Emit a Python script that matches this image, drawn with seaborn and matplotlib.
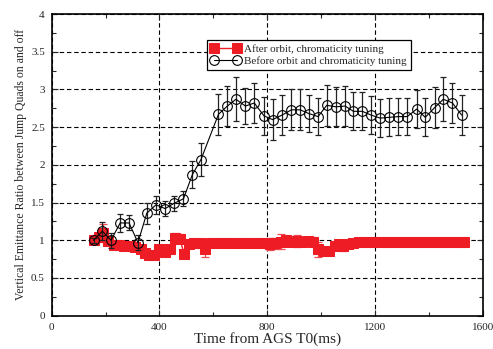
import numpy as np
import pandas as pd
import seaborn as sns
import matplotlib.pyplot as plt
from matplotlib.ticker import MultipleLocator, FuncFormatter

sns.set_style("ticks")
plt.rcParams["font.family"] = ["Liberation Serif", "DejaVu Serif"]

# "Before orbit and chromaticity tuning" (open circles)
before_t = [155, 188, 220, 254, 287, 320, 353, 387, 421, 454, 489, 522, 554, 619,
            652, 684, 719, 752, 788, 820, 855, 890, 922, 955, 989, 1021, 1055, 1089,
            1120, 1153, 1186, 1219, 1252, 1287, 1320, 1355, 1387, 1422, 1454, 1488, 1522]
before_v = [1.00, 1.12, 1.00, 1.23, 1.23, 0.97, 1.36, 1.47, 1.42, 1.49, 1.55, 1.87, 2.07, 2.67,
            2.78, 2.87, 2.78, 2.82, 2.65, 2.60, 2.66, 2.73, 2.73, 2.68, 2.64, 2.79, 2.77, 2.78,
            2.71, 2.71, 2.66, 2.62, 2.63, 2.64, 2.64, 2.74, 2.63, 2.76, 2.87, 2.82, 2.66]
before_e = [0.03, 0.12, 0.10, 0.12, 0.10, 0.10, 0.14, 0.12, 0.10, 0.10, 0.10, 0.18, 0.22, 0.27,
            0.27, 0.29, 0.24, 0.26, 0.25, 0.27, 0.27, 0.27, 0.27, 0.25, 0.25, 0.27, 0.26, 0.27,
            0.25, 0.25, 0.25, 0.25, 0.25, 0.25, 0.25, 0.25, 0.25, 0.27, 0.29, 0.26, 0.27]

# "After orbit, chromaticity tuning" (filled red squares)
after_t = [155, 175, 192, 210, 230, 250, 270, 290, 310, 330, 345, 360, 380, 400, 420, 440,
           458, 475, 492, 510, 530, 550, 570, 590, 610, 630, 650, 670, 690, 710, 730, 750,
           770, 790, 810, 830, 850, 870, 890, 910, 930, 950, 970, 990, 1010, 1030, 1050,
           1065, 1080, 1100, 1120, 1140, 1160, 1180, 1200, 1220, 1240, 1260, 1280, 1300,
           1320, 1340, 1360, 1380, 1400, 1420, 1440, 1460, 1480, 1500, 1520, 1530]
after_v = [1.00, 1.05, 1.10, 0.99, 0.94, 0.94, 0.93, 0.92, 0.91, 0.88, 0.83, 0.80, 0.80, 0.89, 0.84, 0.88,
           1.03, 1.02, 0.82, 0.95, 0.96, 0.96, 0.88, 0.96, 0.96, 0.97, 0.97, 0.97, 0.97, 0.97, 0.97, 0.97,
           0.96, 0.96, 0.95, 0.96, 0.98, 1.00, 0.98, 0.99, 0.98, 0.99, 0.98, 0.88, 0.86, 0.86, 0.93,
           0.95, 0.92, 0.95, 0.97, 0.98, 0.98, 0.98, 0.98, 0.98, 0.98, 0.98, 0.98, 0.98,
           0.98, 0.98, 0.98, 0.98, 0.98, 0.98, 0.98, 0.98, 0.98, 0.98, 0.98, 0.98]
after_e = [0.03, 0.05, 0.12, 0.05, 0.04, 0.03, 0.03, 0.04, 0.03, 0.04, 0.04, 0.03, 0.03, 0.03, 0.04, 0.03,
           0.07, 0.06, 0.03, 0.04, 0.03, 0.03, 0.10, 0.03, 0.03, 0.02, 0.03, 0.02, 0.04, 0.03, 0.03, 0.04,
           0.05, 0.04, 0.08, 0.07, 0.10, 0.06, 0.05, 0.08, 0.06, 0.05, 0.06, 0.10, 0.04, 0.04, 0.04,
           0.03, 0.06, 0.03, 0.02, 0.02, 0.02, 0.02, 0.02, 0.02, 0.02, 0.02, 0.02, 0.02,
           0.02, 0.02, 0.02, 0.02, 0.02, 0.02, 0.02, 0.02, 0.02, 0.02, 0.02, 0.02]

before = pd.DataFrame({"t": before_t, "v": before_v, "e": before_e})
after = pd.DataFrame({"t": after_t, "v": after_v, "e": after_e})

red = "#ee1c24"
fig = plt.figure(figsize=(4.93, 3.49), dpi=100)
ax = fig.add_axes([0.105, 0.0954, 0.874, 0.8644])

# red series
ax.errorbar(after["t"], after["v"], yerr=after["e"], fmt="none", ecolor="#f04a50",
            elinewidth=0.9, capsize=3, capthick=0.9, zorder=3)
sns.lineplot(data=after, x="t", y="v", ax=ax, color=red, marker="s", markersize=6.5,
             markeredgecolor=red, linewidth=1.0, label="After orbit, chromaticity tuning",
             zorder=4, sort=False)

# black series
ax.errorbar(before["t"], before["v"], yerr=before["e"], fmt="none", ecolor="#222222",
            elinewidth=0.9, capsize=2.5, capthick=0.9, zorder=5)
sns.lineplot(data=before, x="t", y="v", ax=ax, color="black", marker="o", markersize=7,
             markerfacecolor="none", markeredgecolor="black", markeredgewidth=0.8,
             linewidth=0.8, label="Before orbit and chromaticity tuning", zorder=6, sort=False)

ax.set_xlim(0, 1600)
ax.set_ylim(0, 4)
ax.xaxis.set_major_locator(MultipleLocator(400))
ax.xaxis.set_minor_locator(MultipleLocator(200))
ax.yaxis.set_major_locator(MultipleLocator(0.5))
ax.yaxis.set_minor_locator(MultipleLocator(0.25))
ax.yaxis.set_major_formatter(FuncFormatter(lambda v, p: f"{v:g}"))
ax.tick_params(which="both", direction="in", top=True, right=True, labelsize=8, pad=5)
ax.tick_params(which="major", length=4, width=0.8)
ax.tick_params(which="minor", length=3, width=0.8)
for s in ax.spines.values():
    s.set_linewidth(1.2)
    s.set_color("black")

ax.grid(True, which="major", color="black", linestyle=(0, (4, 2.5)), linewidth=0.8)
ax.set_axisbelow(True)

ax.set_xlabel("Time from AGS T0(ms)", fontsize=11, labelpad=0)
ax.set_ylabel("Vertical Emittance Ratio between Jump Quads on and off", fontsize=8.5, labelpad=3)

h, l = ax.get_legend_handles_labels()
leg = ax.legend(h, l, loc="upper left", bbox_to_anchor=(0.348, 0.932), fontsize=8,
                frameon=True, fancybox=False, edgecolor="black", framealpha=1, numpoints=2,
                borderpad=0.35, handlelength=2.6, handletextpad=0.4, labelspacing=0.25)
leg.get_frame().set_linewidth(0.9)

plt.savefig("out.png", dpi=100)
